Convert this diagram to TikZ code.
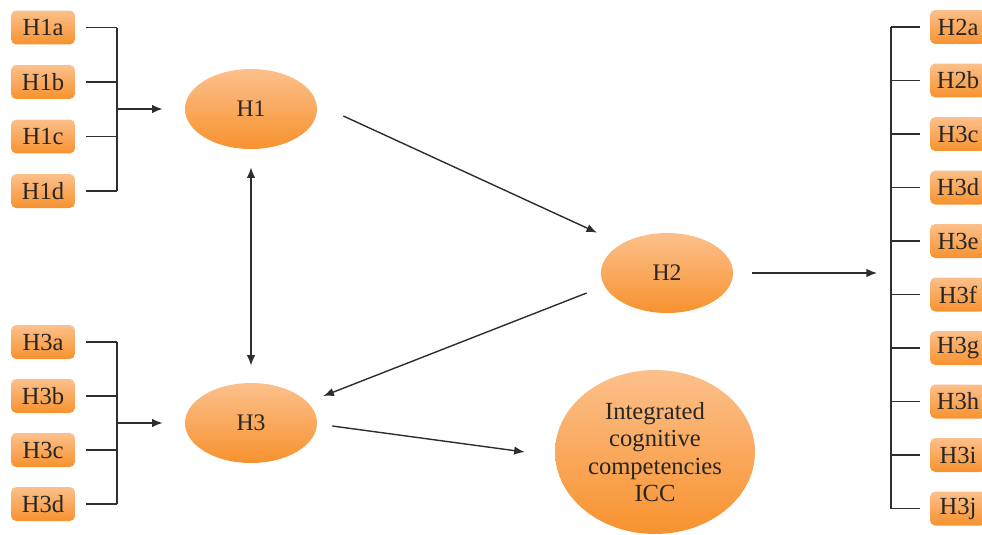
\documentclass[tikz,border=0pt]{standalone}
\usepackage{fontspec}
\setmainfont{Liberation Serif}
\usetikzlibrary{positioning, arrows.meta, shapes.geometric}

\definecolor{hypLight}{HTML}{FCC08C}
\definecolor{hypOrange}{HTML}{F7922E}
\definecolor{lineGray}{HTML}{2E2E2E}
\definecolor{textGray}{HTML}{262626}

\tikzset{
  itembox/.style={rectangle, rounded corners=3pt, top color=hypLight, middle color=hypOrange,
    bottom color=hypOrange, minimum width=1.28cm, minimum height=0.68cm, inner sep=2pt,
    text=textGray, font=\fontsize{14}{16}\selectfont},
  hyp/.style={ellipse, top color=hypLight, middle color=hypOrange, bottom color=hypOrange,
    minimum width=2.64cm, minimum height=1.6cm, inner sep=0pt,
    text=textGray, font=\fontsize{13.5}{15}\selectfont},
  link/.style={draw=lineGray, line width=0.8pt},
  arr/.style={link, -{Latex[length=6pt, width=4.8pt]}},
  arrboth/.style={link, {Latex[length=6pt, width=4.8pt]}-{Latex[length=6pt, width=4.8pt]}}
}

\begin{document}
\begin{tikzpicture}[x=0.02cm, y=-0.02cm]
  \useasboundingbox (0,0) rectangle (982,534);
  \clip (0,0) rectangle (982,534);

  % -- hypotheses --
  \node[hyp] (H1) at (251,109) {H1};
  \node[hyp] (H2) at (667,273) {H2};
  \node[hyp] (H3) at (251,423) {H3};
  \node[hyp, minimum width=4.0cm, minimum height=3.28cm, align=center,
        font=\fontsize{14}{15.6}\selectfont] (ICC) at (655,452)
    {Integrated\\cognitive\\competencies\\ICC};

  % -- left item groups --
  \foreach \s/\y in {a/27.5, b/82, c/136.5, d/191}
    \node[itembox] (H1\s) at (43,\y) {H1\s};
  \foreach \s/\y in {a/342, b/396, c/450, d/504}
    \node[itembox] (H3\s) at (43,\y) {H3\s};

  % -- right item group --
  \foreach \lab [count=\i from 0] in {H2a,H2b,H3c,H3d,H3e,H3f,H3g,H3h,H3i,H3j}
    \node[itembox, minimum width=1.12cm] (R\i) at (958,{27+53.5*\i}) {\lab};

  % brackets
  \coordinate (J1) at (117,109);
  \coordinate (J3) at (117,423);
  \coordinate (J2) at (891,273);
  \foreach \s in {a,b,c,d} {
    \draw[link] ([xshift=0.22cm]H1\s.east) -- (H1\s.east -| J1);
    \draw[link] ([xshift=0.22cm]H3\s.east) -- (H3\s.east -| J3);
  }
  \draw[link] (H1a.east -| J1) -- (H1d.east -| J1);
  \draw[link] (H3a.east -| J3) -- (H3d.east -| J3);
  \foreach \i in {0,...,9}
    \draw[link] ([xshift=-0.2cm]R\i.west) -- (R\i.west -| J2);
  \draw[link] (R0.west -| J2) -- (R9.west -| J2);

  % -- arrows --
  \draw[arr] (J1) -- ([xshift=-0.44cm]H1.west);
  \draw[arr] (J3) -- ([xshift=-0.44cm]H3.west);
  \draw[arrboth] ([yshift=-0.36cm]H1.south) -- ([yshift=0.34cm]H3.north);
  \draw[arr] ([xshift=0.52cm, yshift=-0.14cm]H1.east) -- ([xshift=-1.4cm]H2.north);
  \draw[arr] ([xshift=-0.28cm, yshift=-0.4cm]H2.west) -- ([xshift=0.12cm, yshift=0.54cm]H3.east);
  \draw[arr] ([xshift=0.3cm, yshift=-0.06cm]H3.east) -- ([xshift=-0.6cm]ICC.west);
  \draw[arr] ([xshift=0.38cm]H2.east) -- ([xshift=-0.28cm]J2);
\end{tikzpicture}
\end{document}
